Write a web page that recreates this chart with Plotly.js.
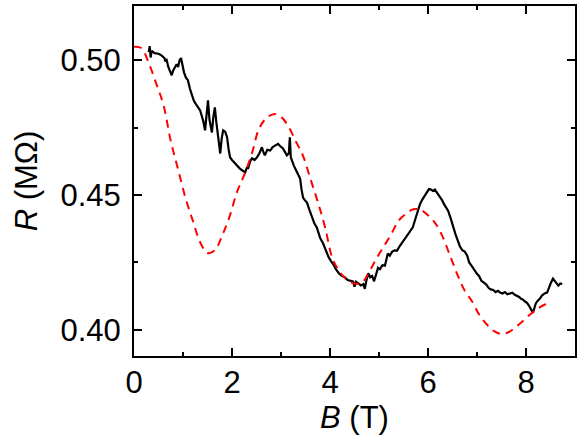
<!DOCTYPE html>
<html>
<head>
<meta charset="utf-8">
<script src="https://cdn.plot.ly/plotly-3.0.1.min.js"></script>
<style>
  html, body { margin: 0; padding: 0; background: #fff; }
  #chart { width: 581px; height: 447px; }
</style>
</head>
<body>
<div id="chart"></div>
<script>
// measured R(B), black solid line
var bMeas = [0.30, 0.32, 0.34, 0.36, 0.42, 0.50, 0.56, 0.62, 0.64, 0.66, 0.70, 0.74, 0.77, 0.80, 0.84, 0.87, 0.90, 0.93, 0.96, 0.99,
    1.02, 1.06, 1.10, 1.14, 1.18, 1.22, 1.26, 1.30, 1.35, 1.38, 1.41, 1.45, 1.48, 1.51, 1.54, 1.57, 1.59, 1.62, 1.65, 1.68,
    1.71, 1.74, 1.76, 1.79, 1.82, 1.86, 1.90, 1.93, 1.96, 2.00, 2.06, 2.11, 2.16, 2.22, 2.27, 2.30, 2.33, 2.37, 2.41, 2.46,
    2.51, 2.56, 2.61, 2.64, 2.67, 2.72, 2.78, 2.83, 2.88, 2.94, 2.99, 3.04, 3.08, 3.12, 3.16, 3.18, 3.20, 3.22, 3.26, 3.29,
    3.34, 3.39, 3.42, 3.45, 3.49, 3.53, 3.58, 3.63, 3.68, 3.73, 3.80, 3.86, 3.92, 3.97, 4.02, 4.06, 4.12, 4.18, 4.24, 4.30,
    4.36, 4.42, 4.47, 4.50, 4.53, 4.58, 4.63, 4.68, 4.71, 4.74, 4.78, 4.82, 4.86, 4.90, 4.94, 4.98, 5.02, 5.07, 5.12, 5.15,
    5.18, 5.22, 5.27, 5.32, 5.37, 5.42, 5.48, 5.53, 5.58, 5.63, 5.69, 5.74, 5.79, 5.84, 5.89, 5.94, 5.98, 6.02, 6.06, 6.10,
    6.14, 6.18, 6.22, 6.26, 6.29, 6.33, 6.37, 6.41, 6.46, 6.51, 6.56, 6.61, 6.65, 6.70, 6.75, 6.80, 6.84, 6.88, 6.92, 6.96,
    7.00, 7.04, 7.09, 7.14, 7.19, 7.24, 7.28, 7.33, 7.38, 7.43, 7.47, 7.52, 7.57, 7.62, 7.67, 7.72, 7.77, 7.82, 7.86, 7.90,
    7.94, 7.98, 8.02, 8.06, 8.10, 8.14, 8.17, 8.20, 8.24, 8.28, 8.33, 8.38, 8.43, 8.47, 8.51, 8.55, 8.59, 8.63, 8.66, 8.70, 8.74];
var rMeas = [0.5030, 0.5052, 0.5010, 0.5035, 0.5026, 0.5024, 0.5018, 0.5008, 0.4995, 0.5005, 0.4975, 0.4955, 0.4944, 0.4962, 0.4975, 0.4985, 0.4975, 0.5000, 0.5008, 0.4980,
    0.4955, 0.4935, 0.4926, 0.4895, 0.4870, 0.4850, 0.4838, 0.4825, 0.4814, 0.4795, 0.4777, 0.4740, 0.4790, 0.4851, 0.4780, 0.4745, 0.4732, 0.4790, 0.4825, 0.4770,
    0.4729, 0.4690, 0.4654, 0.4710, 0.4740, 0.4735, 0.4714, 0.4670, 0.4640, 0.4630, 0.4617, 0.4605, 0.4598, 0.4590, 0.4584, 0.4600, 0.4600, 0.4625, 0.4636, 0.4630,
    0.4640, 0.4655, 0.4677, 0.4660, 0.4647, 0.4668, 0.4665, 0.4678, 0.4684, 0.4690, 0.4680, 0.4673, 0.4660, 0.4647, 0.4655, 0.4714, 0.4640, 0.4628, 0.4610, 0.4598,
    0.4580, 0.4561, 0.4520, 0.4490, 0.4480, 0.4472, 0.4445, 0.4416, 0.4395, 0.4380, 0.4340, 0.4320, 0.4290, 0.4270, 0.4255, 0.4245, 0.4225, 0.4210, 0.4200, 0.4195,
    0.4185, 0.4182, 0.4180, 0.4160, 0.4178, 0.4172, 0.4165, 0.4170, 0.4152, 0.4180, 0.4210, 0.4195, 0.4200, 0.4180, 0.4205, 0.4230, 0.4225, 0.4240, 0.4238, 0.4260,
    0.4283, 0.4275, 0.4290, 0.4295, 0.4294, 0.4310, 0.4325, 0.4340, 0.4350, 0.4365, 0.4380, 0.4410, 0.4440, 0.4468, 0.4485, 0.4500, 0.4510, 0.4522, 0.4520, 0.4515,
    0.4520, 0.4510, 0.4500, 0.4490, 0.4480, 0.4465, 0.4455, 0.4442, 0.4415, 0.4380, 0.4355, 0.4330, 0.4310, 0.4295, 0.4290, 0.4275, 0.4250, 0.4240, 0.4228, 0.4215,
    0.4208, 0.4200, 0.4182, 0.4175, 0.4168, 0.4155, 0.4150, 0.4148, 0.4140, 0.4145, 0.4138, 0.4135, 0.4140, 0.4132, 0.4134, 0.4138, 0.4130, 0.4126, 0.4122, 0.4115,
    0.4112, 0.4105, 0.4100, 0.4090, 0.4075, 0.4063, 0.4080, 0.4098, 0.4108, 0.4115, 0.4128, 0.4135, 0.4138, 0.4160, 0.4175, 0.4190, 0.4180, 0.4168, 0.4164, 0.4172, 0.4170];

// calculated R(B), red dashed line
var bCalc = [0, 0.15, 0.30, 0.45, 0.60, 0.75, 0.90, 1.05, 1.20, 1.35, 1.50, 1.65, 1.80, 1.95, 2.10, 2.25, 2.40, 2.55, 2.70, 2.85,
    3.00, 3.15, 3.30, 3.45, 3.60, 3.75, 3.90, 4.05, 4.20, 4.35, 4.50, 4.65, 4.80, 4.95, 5.10, 5.25, 5.40, 5.55, 5.70, 5.85,
    6.00, 6.15, 6.30, 6.45, 6.60, 6.75, 6.90, 7.05, 7.20, 7.35, 7.50, 7.65, 7.80, 7.95, 8.10, 8.25, 8.40, 8.50];
var rCalc = [0.5050, 0.5045, 0.4990, 0.4915, 0.4835, 0.4700, 0.4595, 0.4490, 0.4405, 0.4325, 0.4285, 0.4295, 0.4350, 0.4420, 0.4510, 0.4575, 0.4650, 0.4745, 0.4785, 0.4800,
    0.4790, 0.4755, 0.4700, 0.4645, 0.4560, 0.4475, 0.4380, 0.4265, 0.4215, 0.4185, 0.4172, 0.4175, 0.4215, 0.4265, 0.4310, 0.4355, 0.4405, 0.4430, 0.4447, 0.4445,
    0.4425, 0.4395, 0.4345, 0.4275, 0.4205, 0.4145, 0.4105, 0.4055, 0.4020, 0.3995, 0.3985, 0.3992, 0.4012, 0.4035, 0.4060, 0.4080, 0.4095, 0.4098];

var xTicks = [0, 2, 4, 6, 8];
var yTicks = [0.40, 0.45, 0.50];

var fontFam = 'Liberation Sans, Arial, sans-serif';

var measured = {
    x: bMeas,
    y: rMeas,
    type: 'scatter',
    mode: 'lines',
    line: { color: '#000000', width: 2.2 },
    hoverinfo: 'skip'
};

var calculated = {
    x: bCalc,
    y: rCalc,
    type: 'scatter',
    mode: 'lines',
    line: { color: '#ff0000', width: 2, dash: '8px,6px', shape: 'spline' },
    hoverinfo: 'skip'
};

var axisCommon = {
    showline: true,
    linecolor: '#000',
    linewidth: 2,
    mirror: 'ticks',
    ticks: 'inside',
    ticklen: 8,
    tickwidth: 2,
    tickcolor: '#000',
    showgrid: false,
    zeroline: false,
    tickfont: { family: fontFam, size: 31, color: '#000' }
};

var layout = {
    width: 581,
    height: 447,
    margin: { l: 134, r: 6, t: 6, b: 91 },
    paper_bgcolor: '#fff',
    plot_bgcolor: '#fff',
    showlegend: false,
    font: { family: fontFam, color: '#000' },
    xaxis: Object.assign({}, axisCommon, {
        range: [0, 9],
        tickmode: 'array',
        tickvals: xTicks,
        ticktext: xTicks.map(String),
        ticklabelstandoff: -2,
        minor: { ticks: 'inside', ticklen: 4, tickwidth: 2, tickcolor: '#000', dtick: 1, tick0: 0 },
        title: { text: '<i>B</i> (T)', font: { family: fontFam, size: 31 }, standoff: 4 }
    }),
    yaxis: Object.assign({}, axisCommon, {
        range: [0.3903, 0.5201],
        tickmode: 'array',
        tickvals: yTicks,
        ticktext: yTicks.map(function (v) { return v.toFixed(2); }),
        ticklabelstandoff: 5,
        minor: { ticks: 'inside', ticklen: 4, tickwidth: 2, tickcolor: '#000', dtick: 0.025, tick0: 0 },
        title: { text: '<i>R</i> (MΩ)', font: { family: fontFam, size: 31 }, standoff: 14 }
    })
};

Plotly.newPlot('chart', [measured, calculated], layout, { displayModeBar: false, staticPlot: true });
</script>
</body>
</html>
